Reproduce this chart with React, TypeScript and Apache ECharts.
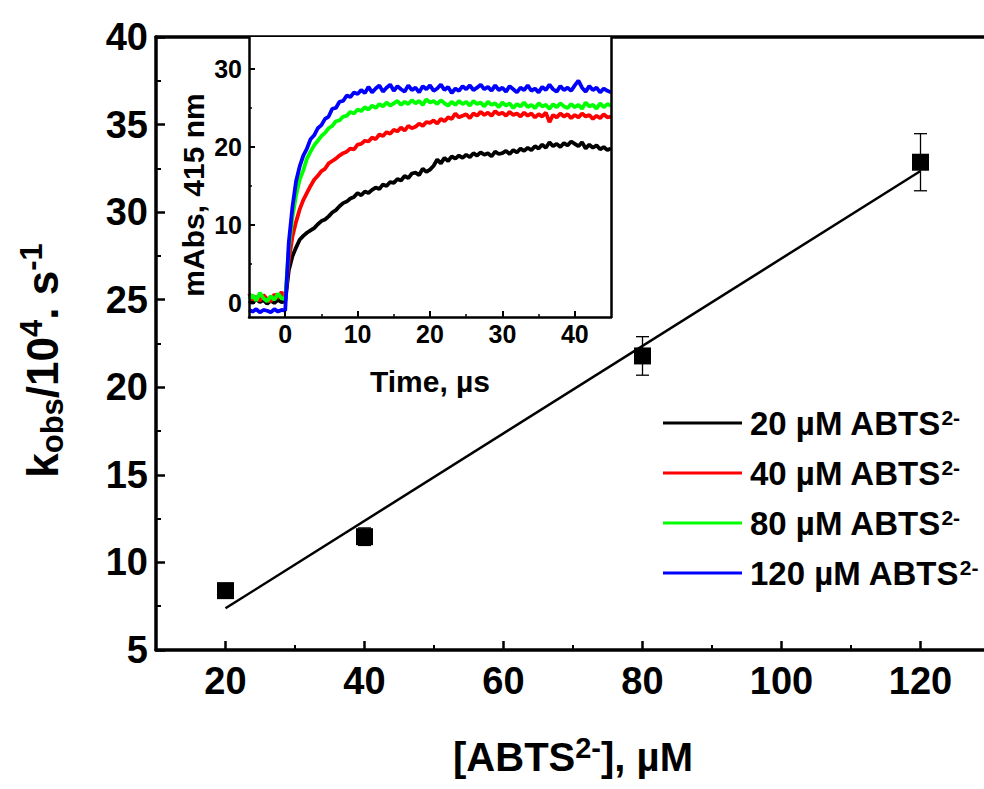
import React, { useEffect, useRef } from "react";
import * as echarts from "echarts";

// ---------- main plot data ----------
const concentrations = [20, 40, 80, 120];
const kobs = [8.39, 11.47, 21.79, 32.85];
const kobsErr = [0.2, 0.5, 1.1, 1.63];
const fitX = [20, 120];
const fitY = [7.38, 32.35];

const mainXTicks = [20, 40, 60, 80, 100, 120];
const mainXMinor = [30, 50, 70, 90, 110];

// ---------- inset data ----------
const insetXTicks = [0, 10, 20, 30, 40];
const insetXMinor = [5, 15, 25, 35];
const insetYTicks = [0, 10, 20, 30];
const insetYMinor = [5, 15, 25];

const traceNames = ["20 µM ABTS", "40 µM ABTS", "80 µM ABTS", "120 µM ABTS"];
const traceColors = ["#000000", "#ff0000", "#00ff00", "#0000ff"];

const time = [
  -5, -4.5, -4, -3.5, -3, -2.5, -2, -1.5, -1, -0.5,
  0, 0.5, 1, 1.5, 2, 2.5, 3, 3.5, 4, 4.5,
  5, 5.5, 6, 6.5, 7, 7.5, 8, 8.5, 9, 9.5,
  10, 10.5, 11, 11.5, 12, 12.5, 13, 13.5, 14, 14.5,
  15, 15.5, 16, 16.5, 17, 17.5, 18, 18.5, 19, 19.5,
  20, 20.5, 21, 21.5, 22, 22.5, 23, 23.5, 24, 24.5,
  25, 25.5, 26, 26.5, 27, 27.5, 28, 28.5, 29, 29.5,
  30, 30.5, 31, 31.5, 32, 32.5, 33, 33.5, 34, 34.5,
  35, 35.5, 36, 36.5, 37, 37.5, 38, 38.5, 39, 39.5,
  40, 40.5, 41, 41.5, 42, 42.5, 43, 43.5, 44, 44.5,
  45,
];

const trace20 = [
  0.3, 0.0, 0.5, 0.1, 0.4, -0.1, 0.3, 0.0, 0.4, 0.1,
  0.2, 4.2, 6.0, 7.1, 8.1, 8.6, 9.0, 9.3, 9.6, 10.1,
  10.5, 10.7, 11.1, 11.6, 11.9, 12.4, 12.8, 13.0, 13.4, 13.6,
  14.1, 13.8, 14.3, 14.1, 14.5, 14.8, 14.6, 15.2, 15.0, 15.5,
  15.4, 15.9, 15.7, 16.3, 16.0, 16.6, 16.7, 16.4, 17.2, 16.8,
  17.1, 17.6, 18.4, 17.9, 18.6, 18.2, 18.8, 18.5, 18.9, 18.6,
  19.0, 18.7, 19.2, 18.9, 19.3, 19.0, 19.2, 18.8, 19.4, 19.1,
  19.2, 19.5, 19.1, 19.6, 19.3, 19.8, 19.5, 19.9, 19.6, 20.1,
  19.8, 20.3, 19.9, 20.6, 20.1, 20.4, 20.0, 20.5, 20.2, 20.7,
  20.4, 20.1, 20.6, 19.8, 20.3, 19.9, 20.2, 19.7, 20.0, 19.6,
  19.8,
];

const trace40 = [
  1.2, 0.4, 0.8, 0.3, 1.0, 0.5, 0.2, 1.1, 0.6, 1.4,
  0.5, 5.5, 8.5, 10.4, 12.0, 13.2, 14.1, 15.0, 15.8, 16.3,
  16.9, 17.2, 17.9, 18.2, 18.5, 18.9, 19.2, 19.4, 19.8, 19.7,
  20.3, 20.4, 20.8, 20.7, 21.2, 21.0, 21.6, 21.4, 21.9, 21.7,
  22.2, 22.0, 22.5, 22.1, 22.7, 22.4, 22.6, 23.0, 22.7, 23.2,
  23.1, 23.4, 23.0, 23.6, 23.3, 23.8, 23.6, 24.3, 23.8, 24.0,
  24.2, 23.7, 24.3, 24.0, 24.5, 24.1, 24.4, 24.0, 24.6, 24.2,
  24.4, 24.0, 24.5, 24.1, 24.3, 23.9, 24.4, 24.0, 24.3, 23.8,
  24.2, 23.9, 24.4, 23.2, 24.1, 23.8, 24.3, 23.9, 24.2, 23.7,
  24.1, 23.8, 24.3, 23.9, 24.1, 23.6, 24.0, 23.7, 24.2, 23.8,
  23.9,
];

const trace80 = [
  0.5, 1.0, 0.3, 1.3, 0.6, 0.2, 0.9, 0.4, 1.2, 0.6,
  0.5, 7.0, 11.0, 13.8, 15.8, 17.0, 18.5, 19.4, 20.2, 20.8,
  21.4, 21.8, 22.4, 22.7, 23.3, 23.4, 23.9, 24.0, 24.5, 24.3,
  24.8, 24.6, 25.1, 24.8, 25.3, 25.0, 25.5, 25.2, 25.7, 25.3,
  25.6, 25.9, 25.4, 25.8, 25.5, 26.0, 25.6, 25.9, 25.4, 26.1,
  25.7, 25.9, 25.5, 26.0, 25.6, 25.3, 25.8, 25.4, 25.9, 25.5,
  25.8, 25.3, 25.9, 25.5, 25.7, 25.2, 25.8, 25.4, 25.6, 25.1,
  25.7, 25.3, 25.6, 25.0, 25.5, 25.2, 25.7, 25.1, 25.4, 25.0,
  25.6, 25.2, 25.4, 24.9, 25.5, 25.1, 25.6, 25.2, 25.0, 25.5,
  25.1, 25.4, 24.9, 25.7, 25.2, 25.4, 24.9, 25.6, 25.1, 25.5,
  25.3,
];

const trace120 = [
  -0.9, -1.1, -0.8, -1.2, -0.9, -1.0, -1.2, -0.8, -1.1, -0.9,
  -1.0, 7.8, 12.3, 15.6, 17.5, 18.9, 19.8, 21.0, 21.5, 22.4,
  22.8, 23.6, 23.9, 24.9, 25.0, 25.8, 25.9, 26.6, 26.4, 27.0,
  26.8, 27.3, 26.9, 27.7, 27.0, 27.5, 27.9, 27.1, 27.6, 28.0,
  27.2, 27.8, 27.4, 27.1, 27.9, 27.3, 27.6, 27.0, 27.8, 27.4,
  27.9, 27.2, 27.5, 28.0, 27.3, 27.7, 26.9, 27.5, 27.2, 27.8,
  27.4, 27.9, 27.3, 27.6, 28.0, 27.4, 27.7, 27.2, 27.9, 27.3,
  27.6, 27.1, 27.8, 27.4, 27.0, 27.6, 27.3, 27.9, 27.2, 27.5,
  27.0, 27.7, 27.3, 28.0, 27.4, 27.1, 27.8, 27.3, 27.6, 27.2,
  27.9, 28.5, 27.6, 27.1, 27.8, 27.3, 27.6, 27.0, 27.5, 27.2,
  27.0,
];

const traces = [trace20, trace40, trace80, trace120];

const FONT = "'Liberation Sans', Arial, Helvetica, sans-serif";

export default function App() {
  const ref = useRef<HTMLDivElement>(null);

  useEffect(() => {
    if (!ref.current) return;
    const chart = echarts.init(ref.current, null, { renderer: "svg" });

    const mainLabel = { fontFamily: FONT, fontWeight: "bold", fontSize: 38, color: "#000" };
    const insetLabel = { fontFamily: FONT, fontWeight: "bold", fontSize: 25, color: "#000" };

    const errData = concentrations.map((c, i) => [c, kobs[i] - kobsErr[i], kobs[i] + kobsErr[i]]);
    const pointData = concentrations.map((c, i) => [c, kobs[i]]);
    const fitData = fitX.map((x, i) => [x, fitY[i]]);

    const traceSeries = traces.map((tr, k) => ({
      name: traceNames[k],
      type: "line",
      xAxisIndex: 3,
      yAxisIndex: 1,
      data: time.map((t, i) => [t, tr[i]]),
      showSymbol: false,
      symbol: "none",
      clip: true,
      lineStyle: { color: traceColors[k], width: 3.8 },
      itemStyle: { color: traceColors[k], borderWidth: 0 },
      z: 5 + k,
    }));

    const option: any = {
      animation: false,
      backgroundColor: "#fff",
      grid: [
        { left: 156, top: 37, width: 834, height: 613, outerBoundsMode: "none", containLabel: false },
        {
          left: 249, top: 37, width: 362, height: 280, outerBoundsMode: "none", containLabel: false,
          show: true, backgroundColor: "#fff", borderWidth: 0, z: 3,
        },
      ],
      legend: {
        data: traceNames,
        orient: "vertical",
        left: 658,
        top: 398,
        itemWidth: 79,
        itemHeight: 3,
        itemGap: 13.5,
        icon: "rect",
        itemStyle: { borderWidth: 0 },
        formatter: (name: string) => `{a|${name}}{s|2-}`,
        textStyle: {
          padding: [0, 0, 0, 3],
          rich: {
            a: { fontFamily: FONT, fontWeight: "bold", fontSize: 33, color: "#000", lineHeight: 40 },
            s: { fontFamily: FONT, fontWeight: "bold", fontSize: 21, color: "#000", lineHeight: 21, verticalAlign: "top", padding: [4, 0, 0, 0] },
          },
        },
      },
      xAxis: [
        {
          type: "value", gridIndex: 0, position: "bottom", min: 10, max: 130,
          axisLine: { show: true, onZero: false, lineStyle: { color: "#000", width: 3.5 } },
          axisTick: { show: true, inside: true, length: 9, lineStyle: { width: 2.5, color: "#000" }, customValues: mainXTicks },
          axisLabel: { ...mainLabel, margin: 12, customValues: mainXTicks },
          splitLine: { show: false },
          name: "{k|[ABTS}{sup|2-}{k|], µM}",
          nameLocation: "middle",
          nameGap: 83,
          nameTextStyle: {
            rich: {
              k: { fontFamily: FONT, fontWeight: "bold", fontSize: 40, color: "#000", lineHeight: 48 },
              sup: { fontFamily: FONT, fontWeight: "bold", fontSize: 29, color: "#000", lineHeight: 29, verticalAlign: "top" },
            },
          },
        },
        {
          type: "value", gridIndex: 0, position: "bottom", min: 10, max: 130,
          axisLine: { show: false, onZero: false },
          axisTick: { show: true, inside: true, length: 5, lineStyle: { width: 2, color: "#000" }, customValues: mainXMinor },
          axisLabel: { show: false },
          splitLine: { show: false },
        },
        {
          type: "value", gridIndex: 0, position: "top", min: 10, max: 130,
          axisLine: { show: true, onZero: false, lineStyle: { color: "#000", width: 3.5 } },
          axisTick: { show: false },
          axisLabel: { show: false },
          splitLine: { show: false },
        },
        {
          type: "value", gridIndex: 1, position: "bottom", min: -5, max: 45,
          axisLine: { show: true, onZero: false, lineStyle: { color: "#000", width: 2.5 } },
          axisTick: { show: true, inside: true, length: 6, lineStyle: { width: 2, color: "#000" }, customValues: insetXTicks },
          axisLabel: { ...insetLabel, margin: 4, customValues: insetXTicks },
          splitLine: { show: false },
          name: "Time, µs",
          nameLocation: "middle",
          nameGap: 47,
          nameTextStyle: { fontFamily: FONT, fontWeight: "bold", fontSize: 30, color: "#000", lineHeight: 34 },
          z: 10,
        },
        {
          type: "value", gridIndex: 1, position: "bottom", min: -5, max: 45,
          axisLine: { show: false, onZero: false },
          axisTick: { show: true, inside: true, length: 3, lineStyle: { width: 1.5, color: "#000" }, customValues: insetXMinor },
          axisLabel: { show: false },
          splitLine: { show: false },
          z: 10,
        },
      ],
      yAxis: [
        {
          type: "value", gridIndex: 0, position: "left", min: 5, max: 40, interval: 5,
          axisLine: { show: true, onZero: false, lineStyle: { color: "#000", width: 3.5 } },
          axisTick: { show: true, inside: true, length: 9, lineStyle: { width: 2.5, color: "#000" } },
          minorTick: { show: true, splitNumber: 2, length: 5, lineStyle: { width: 2, color: "#000" } },
          axisLabel: { ...mainLabel, margin: 8 },
          splitLine: { show: false },
          name: "{k|k}{sub|obs}{k|/10}{sup|4}{k|. s}{sup|-1}",
          nameLocation: "middle",
          nameGap: 88,
          nameTextStyle: {
            padding: [0, 34, 0, 0],
            rich: {
              k: { fontFamily: FONT, fontWeight: "bold", fontSize: 44, color: "#000", lineHeight: 52 },
              sub: { fontFamily: FONT, fontWeight: "bold", fontSize: 31, color: "#000", lineHeight: 31, verticalAlign: "bottom" },
              sup: { fontFamily: FONT, fontWeight: "bold", fontSize: 31, color: "#000", lineHeight: 31, verticalAlign: "top" },
            },
          },
        },
        {
          type: "value", gridIndex: 1, position: "left", min: -1.8, max: 34.1,
          axisLine: { show: true, onZero: false, lineStyle: { color: "#000", width: 2.5 } },
          axisTick: { show: true, inside: true, length: 6, lineStyle: { width: 2, color: "#000" }, customValues: insetYTicks },
          axisLabel: { ...insetLabel, margin: 7, customValues: insetYTicks },
          splitLine: { show: false },
          name: "mAbs, 415 nm",
          nameLocation: "middle",
          nameGap: 38,
          nameTextStyle: { fontFamily: FONT, fontWeight: "bold", fontSize: 30, color: "#000", lineHeight: 34, padding: [0, 36, 0, 0] },
          z: 10,
        },
        {
          type: "value", gridIndex: 1, position: "left", min: -1.8, max: 34.1,
          axisLine: { show: false, onZero: false },
          axisTick: { show: true, inside: true, length: 3, lineStyle: { width: 1.5, color: "#000" }, customValues: insetYMinor },
          axisLabel: { show: false },
          splitLine: { show: false },
          z: 10,
        },
        {
          type: "value", gridIndex: 1, position: "right", min: -1.8, max: 34.1,
          axisLine: { show: true, onZero: false, lineStyle: { color: "#000", width: 2.5 } },
          axisTick: { show: false },
          axisLabel: { show: false },
          splitLine: { show: false },
          z: 10,
        },
      ],
      series: [
        {
          type: "custom",
          xAxisIndex: 0,
          yAxisIndex: 0,
          data: errData,
          encode: { x: 0, y: [1, 2] },
          renderItem: (params: any, api: any) => {
            const x = api.value(0);
            const lo = api.coord([x, api.value(1)]);
            const hi = api.coord([x, api.value(2)]);
            const hw = 6.5;
            const style = { stroke: "#000", lineWidth: 1.3 };
            return {
              type: "group",
              children: [
                { type: "line", shape: { x1: lo[0], y1: lo[1], x2: hi[0], y2: hi[1] }, style },
                { type: "line", shape: { x1: lo[0] - hw, y1: lo[1], x2: lo[0] + hw, y2: lo[1] }, style },
                { type: "line", shape: { x1: hi[0] - hw, y1: hi[1], x2: hi[0] + hw, y2: hi[1] }, style },
              ],
            };
          },
          z: 2,
        },
        {
          type: "line",
          xAxisIndex: 0,
          yAxisIndex: 0,
          data: fitData,
          showSymbol: false,
          symbol: "none",
          lineStyle: { color: "#000", width: 2.5 },
          z: 2,
        },
        {
          type: "scatter",
          xAxisIndex: 0,
          yAxisIndex: 0,
          data: pointData,
          symbol: "rect",
          symbolSize: 17,
          itemStyle: { color: "#000", opacity: 1 },
          z: 3,
        },
        ...traceSeries,
      ],
    };

    chart.setOption(option);
    return () => chart.dispose();
  }, []);

  return (
    <div
      ref={ref}
      style={{ position: "fixed", left: 0, top: 0, width: 984, height: 789, background: "#fff" }}
    />
  );
}
